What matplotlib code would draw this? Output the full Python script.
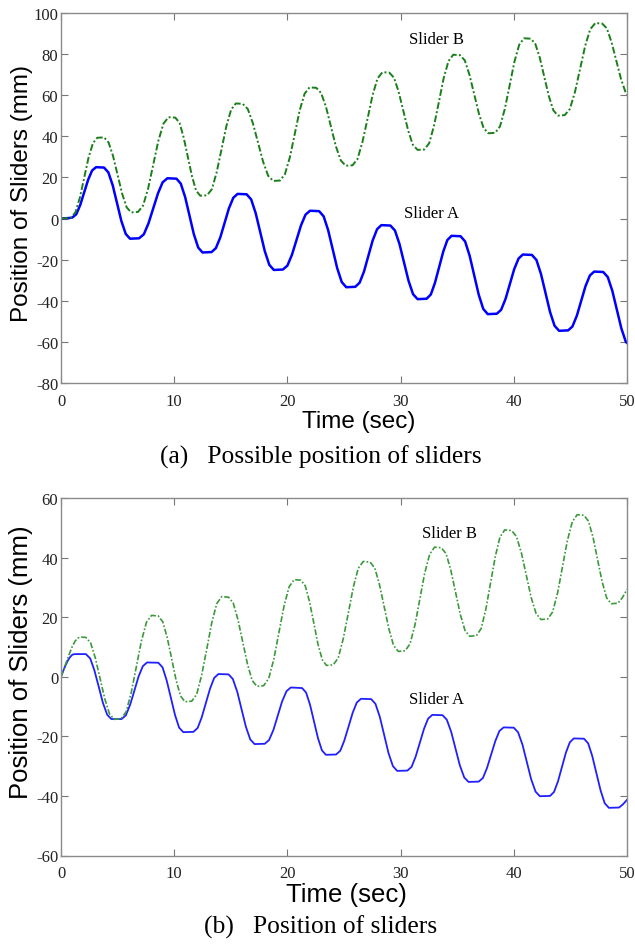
import numpy as np
import matplotlib
matplotlib.use("Agg")
from matplotlib import pyplot as plt

plt.rcParams['axes.unicode_minus'] = False

# (a) possible position of sliders
ta_top = [0, 0.8, 1.0, 1.35, 1.7, 2.05, 2.4, 2.75, 3.1, 3.8,
          4.18, 4.57, 4.95, 5.33, 5.72, 6.1, 6.9,
          7.32, 7.73, 8.15, 8.57, 8.98, 9.4, 10.2,
          10.58, 10.97, 11.35, 11.73, 12.12, 12.5, 13.3,
          13.68, 14.07, 14.45, 14.83, 15.22, 15.6, 16.4,
          16.8, 17.2, 17.6, 18.0, 18.4, 18.8, 19.6,
          20.0, 20.4, 20.8, 21.2, 21.6, 22.0, 22.8,
          23.2, 23.6, 24.0, 24.4, 24.8, 25.2, 26.0,
          26.38, 26.77, 27.15, 27.53, 27.92, 28.3, 29.1,
          29.5, 29.9, 30.3, 30.7, 31.1, 31.5, 32.3,
          32.67, 33.03, 33.4, 33.77, 34.13, 34.5, 35.3,
          35.7, 36.1, 36.5, 36.9, 37.3, 37.7, 38.5,
          38.88, 39.27, 39.65, 40.03, 40.42, 40.8, 41.6,
          42.0, 42.4, 42.8, 43.2, 43.6, 44.0, 44.8,
          45.18, 45.57, 45.95, 46.33, 46.72, 47.1, 47.9,
          48.3, 48.7, 49.1, 49.5, 49.9, 50.0]
ya_top = [0, 0.3, 0.5, 2.1, 6.6, 12.8, 18.9, 23.4, 25.0, 24.8,
          22.5, 16.15, 7.5, -1.15, -7.5, -9.8, -9.6,
          -7.64, -2.3, 5.0, 12.3, 17.64, 19.6, 19.4,
          17.0, 10.4, 1.45, -7.5, -14.1, -16.5, -16.3,
          -14.4, -9.2, -2.15, 4.9, 10.1, 12.0, 11.8,
          9.3, 2.6, -6.6, -15.8, -22.5, -25.0, -24.8,
          -22.9, -17.65, -10.5, -3.35, 1.9, 3.8, 3.6,
          1.1, -5.65, -14.9, -24.15, -30.9, -33.4, -33.2,
          -31.2, -25.7, -18.2, -10.7, -5.2, -3.2, -3.4,
          -5.8, -12.35, -21.3, -30.25, -36.8, -39.2, -39.0,
          -36.95, -31.35, -23.7, -16.05, -10.45, -8.4, -8.6,
          -11.15, -18.1, -27.55, -37.0, -43.95, -46.5, -46.3,
          -44.4, -39.1, -31.9, -24.7, -19.45, -17.5, -17.7,
          -20.15, -26.95, -36.15, -45.4, -52.15, -54.6, -54.4,
          -52.5, -47.25, -40.1, -32.95, -27.7, -25.8, -26.0,
          -28.45, -35.1, -44.25, -53.4, -60.05, -60.5]

tb_top = [0, 0.8, 0.9, 1.28, 1.67, 2.05, 2.43, 2.82, 3.2, 3.8,
          4.2, 4.6, 5.0, 5.4, 5.8, 6.2, 6.8,
          7.25, 7.7, 8.15, 8.6, 9.05, 9.5, 10.1,
          10.47, 10.83, 11.2, 11.57, 11.93, 12.3, 12.9,
          13.33, 13.75, 14.18, 14.6, 15.03, 15.45, 16.05,
          16.5, 16.95, 17.4, 17.85, 18.3, 18.75, 19.35,
          19.78, 20.22, 20.65, 21.08, 21.52, 21.95, 22.55,
          22.98, 23.42, 23.85, 24.28, 24.72, 25.15, 25.75,
          26.19, 26.63, 27.08, 27.52, 27.96, 28.4, 29.0,
          29.42, 29.83, 30.25, 30.67, 31.08, 31.5, 32.1,
          32.53, 32.95, 33.38, 33.8, 34.23, 34.65, 35.25,
          35.67, 36.08, 36.5, 36.92, 37.33, 37.75, 38.35,
          38.78, 39.2, 39.63, 40.05, 40.48, 40.9, 41.5,
          41.9, 42.3, 42.7, 43.1, 43.5, 43.9, 44.5,
          44.95, 45.4, 45.85, 46.3, 46.75, 47.2, 47.8,
          48.22, 48.63, 49.05, 49.47, 49.88, 50.0]
yb_top = [0, 0.3, 0.5, 3.1, 10.2, 19.9, 29.6, 36.7, 39.3, 39.5,
          37.05, 30.4, 21.25, 12.1, 5.45, 3.0, 3.2,
          6.3, 14.7, 26.25, 37.8, 46.2, 49.3, 49.1,
          46.55, 39.6, 30.1, 20.6, 13.65, 11.1, 11.3,
          14.3, 22.5, 33.65, 44.8, 53.0, 56.0, 55.8,
          53.3, 46.4, 37.05, 27.7, 20.8, 18.3, 18.5,
          21.55, 29.85, 41.15, 52.5, 60.75, 63.8, 63.6,
          61.05, 54.1, 44.65, 35.2, 28.25, 25.7, 25.9,
          28.95, 37.25, 48.55, 59.9, 68.15, 71.2, 71.0,
          68.5, 61.6, 52.2, 42.8, 35.9, 33.4, 33.6,
          36.7, 45.15, 56.65, 68.2, 76.6, 79.7, 79.5,
          76.95, 70.0, 60.5, 51.0, 44.05, 41.5, 41.7,
          44.8, 53.2, 64.7, 76.2, 84.6, 87.7, 87.5,
          85.0, 78.15, 68.8, 59.45, 52.6, 50.1, 50.3,
          53.3, 61.5, 72.7, 83.9, 92.1, 95.1, 94.9,
          92.5, 85.9, 76.9, 67.9, 61.3, 60.3]

# (b) position of sliders
ta_bot = [0, 0.2, 0.4, 0.6, 0.8, 1.0, 1.2, 2.2,
          2.58, 2.95, 3.33, 3.7, 4.08, 4.45, 5.35,
          5.73, 6.1, 6.48, 6.85, 7.23, 7.6, 8.6,
          8.97, 9.33, 9.7, 10.07, 10.43, 10.8, 11.7,
          12.07, 12.43, 12.8, 13.17, 13.53, 13.9, 14.8,
          15.18, 15.57, 15.95, 16.33, 16.72, 17.1, 18.0,
          18.38, 18.77, 19.15, 19.53, 19.92, 20.3, 21.3,
          21.65, 22.0, 22.35, 22.7, 23.05, 23.4, 24.3,
          24.67, 25.03, 25.4, 25.77, 26.13, 26.5, 27.4,
          27.78, 28.17, 28.55, 28.93, 29.32, 29.7, 30.6,
          30.97, 31.33, 31.7, 32.07, 32.43, 32.8, 33.7,
          34.08, 34.47, 34.85, 35.23, 35.62, 36.0, 36.9,
          37.27, 37.63, 38.0, 38.37, 38.73, 39.1, 40.0,
          40.38, 40.77, 41.15, 41.53, 41.92, 42.3, 43.2,
          43.55, 43.9, 44.25, 44.6, 44.95, 45.3, 46.2,
          46.57, 46.93, 47.3, 47.67, 48.03, 48.4, 49.3,
          49.65, 50.0]
ya_bot = [0, 2.0, 3.8, 5.4, 6.6, 7.4, 7.6, 7.6,
          6.15, 2.15, -3.3, -8.75, -12.75, -14.2, -14.2,
          -12.95, -9.45, -4.7, 0.05, 3.55, 4.8, 4.7,
          3.15, -1.15, -6.95, -12.8, -17.05, -18.6, -18.5,
          -17.2, -13.65, -8.8, -3.95, -0.4, 0.9, 0.8,
          -0.75, -5.05, -10.9, -16.75, -21.05, -22.6, -22.5,
          -21.25, -17.8, -13.05, -8.3, -4.85, -3.6, -3.8,
          -5.3, -9.4, -15.0, -20.6, -24.7, -26.2, -26.1,
          -24.85, -21.4, -16.75, -12.05, -8.65, -7.4, -7.5,
          -9.1, -13.55, -19.55, -25.6, -30.0, -31.6, -31.5,
          -30.25, -26.8, -22.15, -17.45, -14.05, -12.8, -12.9,
          -14.4, -18.5, -24.1, -29.7, -33.8, -35.3, -35.2,
          -34.0, -30.65, -26.1, -21.55, -18.2, -17.0, -17.1,
          -18.65, -22.85, -28.6, -34.35, -38.55, -40.1, -40.0,
          -38.7, -35.15, -30.35, -25.5, -22.0, -20.7, -20.8,
          -22.35, -26.6, -32.4, -38.2, -42.45, -44.0, -43.9,
          -42.8, -41.3]

tb_bot = [0, 0.25, 0.5, 0.75, 1.0, 1.25, 1.5, 1.8, 2.2,
          2.62, 3.03, 3.45, 3.87, 4.28, 4.7, 5.3,
          5.75, 6.2, 6.65, 7.1, 7.55, 8.0, 8.6,
          8.99, 9.38, 9.78, 10.17, 10.56, 10.95, 11.55,
          11.99, 12.43, 12.88, 13.32, 13.76, 14.2, 14.8,
          15.22, 15.63, 16.05, 16.47, 16.88, 17.3, 17.9,
          18.35, 18.8, 19.25, 19.7, 20.15, 20.6, 21.2,
          21.58, 21.95, 22.33, 22.7, 23.08, 23.45, 24.05,
          24.49, 24.93, 25.38, 25.82, 26.26, 26.7, 27.3,
          27.72, 28.13, 28.55, 28.97, 29.38, 29.8, 30.4,
          30.83, 31.27, 31.7, 32.13, 32.57, 33.0, 33.6,
          34.02, 34.43, 34.85, 35.27, 35.68, 36.1, 36.7,
          37.12, 37.53, 37.95, 38.37, 38.78, 39.2, 39.8,
          40.23, 40.67, 41.1, 41.53, 41.97, 42.4, 43.0,
          43.43, 43.87, 44.3, 44.73, 45.17, 45.6, 46.2,
          46.6, 47.0, 47.4, 47.8, 48.2, 48.6, 49.2,
          49.6, 50.0]
yb_bot = [0, 2.6, 5.2, 7.8, 10.2, 12.0, 13.0, 13.3, 13.2,
          11.35, 6.3, -0.55, -7.45, -12.45, -14.3, -14.1,
          -11.8, -5.4, 3.25, 11.95, 18.3, 20.6, 20.4,
          18.45, 13.2, 6.0, -1.2, -6.45, -8.4, -8.2,
          -5.85, 0.6, 9.35, 18.15, 24.55, 26.9, 26.7,
          24.7, 19.2, 11.75, 4.3, -1.2, -3.2, -3.0,
          -0.6, 5.9, 14.8, 23.7, 30.2, 32.6, 32.4,
          30.5, 25.25, 18.1, 10.95, 5.7, 3.8, 4.0,
          6.3, 12.7, 21.35, 30.05, 36.4, 38.7, 38.5,
          36.5, 31.0, 23.5, 16.0, 10.5, 8.5, 8.7,
          11.05, 17.4, 26.1, 34.8, 41.15, 43.5, 43.3,
          41.3, 35.85, 28.45, 21.0, 15.6, 13.6, 13.8,
          16.2, 22.7, 31.55, 40.45, 46.9, 49.3, 49.1,
          47.1, 41.6, 34.15, 26.65, 21.2, 19.2, 19.4,
          21.75, 28.15, 36.9, 45.65, 52.05, 54.4, 54.2,
          52.2, 46.8, 39.35, 31.95, 26.5, 24.5, 24.7,
          26.6, 29.3]

xticks = [0, 10, 20, 30, 40, 50]
yticks_top = [-80, -60, -40, -20, 0, 20, 40, 60, 80, 100]
yticks_bot = [-60, -40, -20, 0, 20, 40, 60]

serif = ['Liberation Serif', 'DejaVu Serif']
sans = ['Liberation Sans', 'DejaVu Sans']


def style_axes(ax, yticks, xl_size, yl_size, xl_pos, yl_pos):
    ax.set_xlim(0, 50)
    ax.set_ylim(yticks[0], yticks[-1])
    ax.set_xticks(xticks)
    ax.set_yticks(yticks)
    ax.tick_params(direction='in', top=True, right=True, length=5, color='#777777',
                   labelsize=12)
    ax.tick_params(axis='x', pad=7)
    ax.tick_params(axis='y', pad=2)
    for lab in ax.get_xticklabels() + ax.get_yticklabels():
        lab.set_family(serif)
        lab.set_color('#222222')
    for s in ax.spines.values():
        s.set_color('#8a8a8a')
        s.set_linewidth(1.0)
    ax.set_xlabel('Time (sec)', family=sans, fontsize=xl_size)
    ax.set_ylabel('Position of Sliders (mm)', family=sans, fontsize=yl_size)
    ax.xaxis.set_label_coords(*xl_pos)
    ax.yaxis.set_label_coords(*yl_pos)


fig = plt.figure(figsize=(6.35, 9.45), dpi=100)

ax1 = fig.add_axes([61 / 635, 1 - 384 / 945, 566 / 635, 370 / 945])
ax1.plot(ta_top, ya_top, color='#0000ff', lw=1.8)
ax1.plot(tb_top, yb_top, color='#1a7f1a', lw=1.4, ls=(0, (3.5, 1.2, 1, 1.2)))
ax1.text(33.2, 87.4, 'Slider B', family=serif, fontsize=12, ha='center', va='center')
ax1.text(32.7, 2.7, 'Slider A', family=serif, fontsize=12, ha='center', va='center')
style_axes(ax1, yticks_top, 17.5, 17.5, (0.5265, -0.073), (-0.05, 0.516))

ax2 = fig.add_axes([61 / 635, 1 - 856.5 / 945, 566 / 635, 357.5 / 945])
ax2.plot(ta_bot, ya_bot, color='#2020ff', lw=1.3)
ax2.plot(tb_bot, yb_bot, color='#3a9a3a', lw=1.2, ls=(0, (3.5, 1.2, 1, 1.2)))
ax2.text(34.3, 48.3, 'Slider B', family=serif, fontsize=12, ha='center', va='center')
ax2.text(33.2, -7.4, 'Slider A', family=serif, fontsize=12, ha='center', va='center')
style_axes(ax2, yticks_bot, 18.5, 18.5, (0.5035, -0.074), (-0.05, 0.544))

fig.text(321 / 635, 1 - 457 / 945, '(a)   Possible position of sliders', family=serif,
         fontsize=18.4, ha='center', va='center')
fig.text(321 / 635, 1 - 927 / 945, '(b)   Position of sliders', family=serif,
         fontsize=18.4, ha='center', va='center')

fig.savefig('out.png', dpi=100)
